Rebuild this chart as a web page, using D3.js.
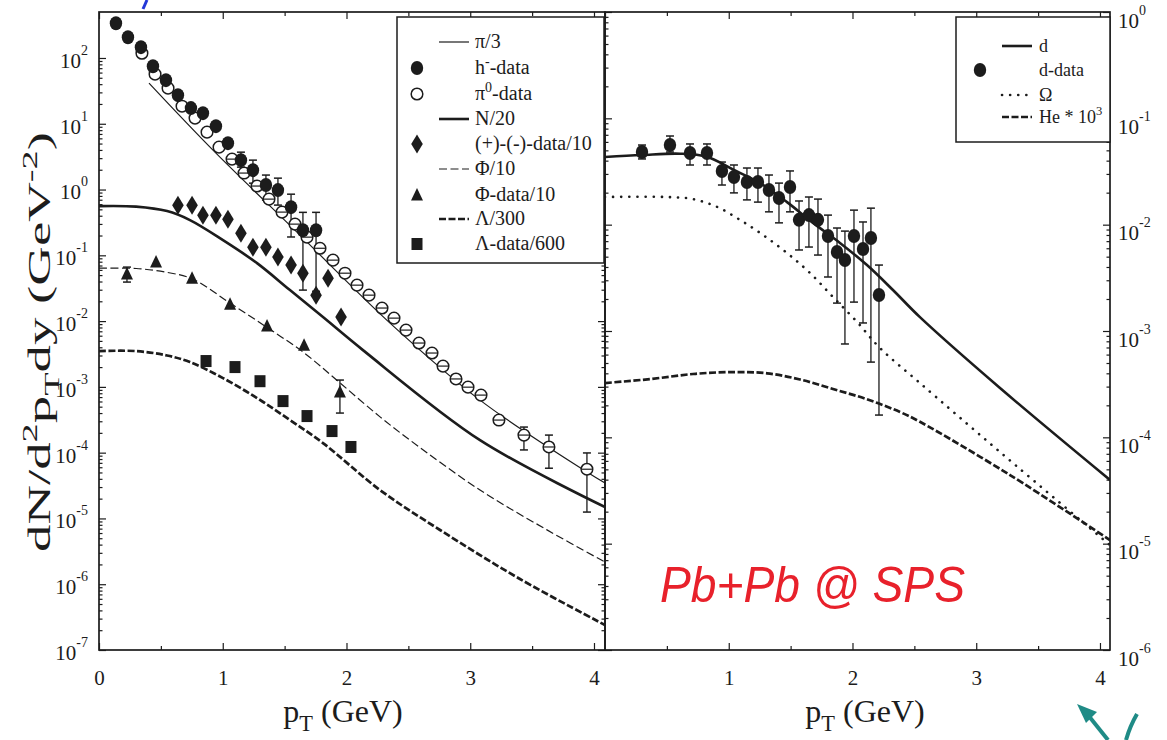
<!DOCTYPE html>
<html><head><meta charset="utf-8">
<script src="https://cdn.jsdelivr.net/npm/d3@7"></script>
<style>
body{margin:0;background:#fff;}
svg{display:block;font-family:"Liberation Serif","DejaVu Serif",serif;}
</style></head><body>
<svg id="chart" width="1167" height="740"></svg>
<script>
// ---------------- data ----------------
const xTickValues=[0,1,2,3,4];
const xMinorValues=[0.5,1.5,2.5,3.5];
const leftDecades=[-7,-6,-5,-4,-3,-2,-1,0,1,2];
const rightDecades=[-6,-5,-4,-3,-2,-1,0];

// left panel: h- data (filled circles)
const hmP=[0.137,0.234,0.339,0.436,0.541,0.638,0.743,0.840,0.945,1.042,1.147,1.244,1.349,1.446,1.552,1.648,1.754];
const hmV=[338,207,146,75,46,27.2,17.3,14.5,9.2,5.07,2.80,1.97,1.17,0.98,0.54,0.24,0.24];
const hmLo=[null,null,null,null,null,null,null,null,null,null,2.19,1.25,0.69,0.58,0.19,0.0296,0.0284];
const hmHi=[null,null,null,null,null,null,null,null,null,null,3.7,2.8,1.66,1.49,0.85,0.45,0.45];
// pi0 data (open circles)
const pi0P=[0.347,0.453,0.558,0.671,0.776,0.873,0.970,1.075,1.172,1.277,1.374,1.479,1.584,1.681,1.786,1.891,1.988,2.085,2.182,2.287,2.384,2.481,2.586,2.691,2.780,2.885,2.982,3.087,3.232,3.434,3.636,3.943];
const pi0V=[118,56.7,34.8,18.5,12.2,7.45,4.41,2.90,1.78,1.13,0.715,0.454,0.298,0.189,0.128,0.0845,0.0535,0.0352,0.0248,0.0158,0.0111,0.0073,0.00464,0.00327,0.00207,0.00132,0.00099,0.00075,0.000313,0.000185,0.000122,0.000056];
const pi0Lo=[null,null,null,null,null,null,null,null,null,null,null,null,null,null,null,null,null,null,null,null,null,null,null,null,null,null,null,null,null,0.00011,0.000058,0.0000125];
const pi0Hi=[null,null,null,null,null,null,null,null,null,null,null,null,null,null,null,null,null,null,null,null,null,null,null,null,null,null,null,null,null,0.000245,0.000185,0.000099];
// (+)-(-) data /10 (diamonds)
const pmP=[0.638,0.752,0.840,0.945,1.042,1.147,1.244,1.349,1.446,1.552,1.648,1.754,1.851,1.956];
const pmV=[0.579,0.579,0.408,0.408,0.355,0.217,0.133,0.133,0.094,0.071,0.0536,0.0248,0.045,0.0115];
// Phi data /10 (triangles)
const phiP=[0.226,0.461,0.752,1.059,1.358,1.657,1.947];
const phiV=[0.0518,0.0789,0.045,0.0181,0.0084,0.00431,0.000834];
const phiLo=[0.0392,null,null,null,null,null,0.0004];
const phiHi=[0.0662,null,null,null,null,null,0.00127];
// Lambda data /600 (squares)
const lamP=[0.865,1.099,1.301,1.487,1.681,1.883,2.036];
const lamV=[0.00247,0.0020,0.00122,0.000608,0.00036,0.000213,0.000122];

// left panel curves
const piLineP=[0.404,0.921,1.624,2.352,3.079,3.943,4.089];
const piLineV=[41.4,3.97,0.203,0.00933,6.29e-4,5.07e-5,3.45e-5];
const nLineP=[0,0.30,0.55,0.735,1.002,1.277,1.543,1.810,2.133,3.079,4.089];
const nLineV=[0.56,0.55,0.47,0.343,0.170,0.076,0.0296,0.0115,0.00362,1.55e-4,1.49e-5];
const phiLineP=[0,0.30,0.55,0.752,1.059,1.358,1.648,1.947,2.271,2.513,3.079,3.620,4.089];
const phiLineV=[0.0638,0.063,0.055,0.044,0.0188,0.0080,0.0034,0.00115,3.5e-4,1.55e-4,2.7e-5,6.7e-6,2.17e-6];
const lamLineP=[0,0.30,0.55,0.735,1.002,1.277,1.543,1.810,2.271,2.756,3.402,4.089];
const lamLineV=[0.0035,0.0035,0.0030,0.00238,0.00136,6.76e-4,3.13e-4,1.40e-4,2.7e-5,6.67e-6,1.2e-6,2.4e-7];

// right panel: d data
const dP=[0.299,0.525,0.687,0.824,0.945,1.042,1.147,1.236,1.325,1.406,1.495,1.568,1.648,1.721,1.802,1.875,1.939,2.012,2.085,2.149,2.214];
const dV=[0.0482,0.0561,0.0472,0.0472,0.032,0.0281,0.0252,0.0252,0.0212,0.0178,0.0226,0.0111,0.0123,0.0111,0.00782,0.00553,0.00465,0.00782,0.0059,0.0075,0.00218];
const dLo=[0.0415,0.0482,0.0364,0.0364,0.0236,0.0199,0.0171,0.0163,0.0132,0.0104,0.0132,0.00578,0.00616,0.00518,0.00322,0.00183,0.000755,0.00187,0.00119,0.00051,0.000162];
const dHi=[0.0561,0.0682,0.0574,0.0574,0.0388,0.0364,0.0341,0.0341,0.0293,0.0246,0.032,0.0167,0.0182,0.0174,0.0123,0.0093,0.0087,0.0137,0.0106,0.0143,0.00417];
// right panel curves
const dLineP=[0,0.299,0.606,0.824,1.034,1.253,1.471,1.681,1.899,2.117,2.327,2.545,3.192,4.081];
const dLineV=[0.0433,0.0452,0.0465,0.0435,0.0330,0.0246,0.0163,0.0104,0.00673,0.00417,0.00243,0.00135,2.91e-4,3.97e-5];
const omLineP=[0,0.501,0.711,0.905,1.091,1.277,1.471,1.657,1.842,2.036,2.222,2.545,3.192,4.081];
const omLineV=[0.0182,0.0182,0.0174,0.0147,0.0111,0.0080,0.00541,0.00351,0.00209,0.00122,6.92e-4,3.24e-4,7.28e-5,9.7e-6];
const heLineP=[0,0.364,0.711,1.034,1.309,1.576,1.842,2.117,2.384,2.545,3.273,4.081];
const heLineV=[3.24e-4,3.53e-4,3.94e-4,4.11e-4,4.00e-4,3.50e-4,2.85e-4,2.28e-4,1.73e-4,1.40e-4,4.42e-5,1.08e-5];

// legends
const legendLeftLabels=["π/3","h^{-}-data","π^{0}-data","N/20","(+)-(-)-data/10","Φ/10","Φ-data/10","Λ/300","Λ-data/600"];
const legendLeftKinds=["thin","fcircle","ocircle","thick","diamond","thindash","triangle","thickdash","square"];
const legendRightLabels=["d","d-data","Ω","He * 10^{3}"];
const legendRightKinds=["thick","fcircle","dotted","thickdash"];

const xTitleParts=[["p",""],["T","sub"],[" (GeV)",""]];
const yTitleParts=[["dN/d",""],["2","sup"],["p",""],["T","sub"],["dy (GeV",""],["-2","sup"],[")",""]];
const annotation="Pb+Pb @ SPS";

// ---------------- layout ----------------
const svg=d3.select("#chart");
const INK="#1c1c1c";
const L={x0:99,x1:605,y0:12,y1:650};
const R={x0:605,x1:1110,y0:12,y1:650};
const xL=d3.scaleLinear([0,4.089],[L.x0,L.x1]);
const yL=d3.scaleLog([1e-7,Math.pow(10,2.699)],[L.y1,L.y0]);
const xR=d3.scaleLinear([0,4.081],[R.x0,R.x1]);
const yR=d3.scaleLog([1e-6,1],[R.y1,R.y0]);

const defs=svg.append("defs");
defs.append("clipPath").attr("id","clipL").append("rect").attr("x",L.x0).attr("y",L.y0).attr("width",L.x1-L.x0).attr("height",L.y1-L.y0);
defs.append("clipPath").attr("id","clipR").append("rect").attr("x",R.x0).attr("y",R.y0).attr("width",R.x1-R.x0).attr("height",R.y1-R.y0);

function minorLogs(decs){const out=[];decs.forEach(k=>{if(k===decs[decs.length-1])return;for(let m=2;m<=9;m++)out.push(m*Math.pow(10,k));});return out;}
function majors(decs){return decs.map(k=>Math.pow(10,k));}

function styleAxis(g){g.select(".domain").remove();g.selectAll(".tick line").attr("stroke",INK).attr("stroke-width",1.2);g.attr("font-family","Liberation Serif").attr("font-size",21);g.selectAll("text").attr("fill",INK);}
function decadeText(g,anchor,dy){
  g.selectAll(".tick text").each(function(d){
    const t=d3.select(this);t.text(null).attr("dy",dy).attr("text-anchor",anchor);
    t.append("tspan").text("10");
    t.append("tspan").attr("dy",-13).attr("font-size",14).text(String(Math.round(Math.log10(d))));
  });
}

function drawAxes(xs,ys,P,decs,side,xlabels){
  const b=svg.append("g").attr("transform",`translate(0,${P.y1})`).call(d3.axisBottom(xs).tickValues(xlabels).tickSizeInner(-7).tickSizeOuter(0).tickPadding(22).tickFormat(d3.format("d")));
  styleAxis(b);
  b.selectAll(".tick text").attr("dy","0.71em").attr("y",20);
  const bm=svg.append("g").attr("transform",`translate(0,${P.y1})`).call(d3.axisBottom(xs).tickValues(xMinorValues).tickSizeInner(-4).tickSizeOuter(0).tickFormat(""));
  styleAxis(bm);
  const t=svg.append("g").attr("transform",`translate(0,${P.y0})`).call(d3.axisTop(xs).tickValues(xTickValues).tickSizeInner(-7).tickSizeOuter(0).tickFormat(""));
  styleAxis(t);
  const tm=svg.append("g").attr("transform",`translate(0,${P.y0})`).call(d3.axisTop(xs).tickValues(xMinorValues).tickSizeInner(-4).tickSizeOuter(0).tickFormat(""));
  styleAxis(tm);
  const l=svg.append("g").attr("transform",`translate(${P.x0},0)`).call(d3.axisLeft(ys).tickValues(majors(decs)).tickSizeInner(-7).tickSizeOuter(0).tickPadding(11).tickFormat(()=>""));
  styleAxis(l);
  if(side==="left")decadeText(l,"end","0.45em");else l.selectAll(".tick text").remove();
  const lm=svg.append("g").attr("transform",`translate(${P.x0},0)`).call(d3.axisLeft(ys).tickValues(minorLogs(decs)).tickSizeInner(-3.5).tickSizeOuter(0).tickFormat(""));
  styleAxis(lm);
  const r=svg.append("g").attr("transform",`translate(${P.x1},0)`).call(d3.axisRight(ys).tickValues(majors(decs)).tickSizeInner(-7).tickSizeOuter(0).tickPadding(8).tickFormat(()=>""));
  styleAxis(r);
  if(side==="right")decadeText(r,"start","0.72em");else r.selectAll(".tick text").remove();
  const rm=svg.append("g").attr("transform",`translate(${P.x1},0)`).call(d3.axisRight(ys).tickValues(minorLogs(decs)).tickSizeInner(-3.5).tickSizeOuter(0).tickFormat(""));
  styleAxis(rm);
}
drawAxes(xL,yL,L,leftDecades,"left",xTickValues);
drawAxes(xR,yR,R,rightDecades,"right",[1,2,3,4]);

[L,R].forEach(P=>svg.append("rect").attr("x",P.x0).attr("y",P.y0).attr("width",P.x1-P.x0).attr("height",P.y1-P.y0).attr("fill","none").attr("stroke",INK).attr("stroke-width",1.7));

// ---------------- curves ----------------
const lineStyles={
  thin:{w:1.2,dash:null},
  thick:{w:2.6,dash:null},
  thindash:{w:1.2,dash:"8,3.5"},
  thickdash:{w:2.7,dash:"7,2.5"},
  dotted:{w:2.6,dash:"0.1,8",cap:"round"}
};
function drawCurve(g,xs,ys,P,V,kind){
  const st=lineStyles[kind];
  const pts=P.map((p,i)=>[xs(p),ys(V[i])]);
  g.append("path").attr("d",d3.line().curve(d3.curveCatmullRom.alpha(0.5))(pts)).attr("fill","none").attr("stroke",INK)
   .attr("stroke-width",st.w).attr("stroke-dasharray",st.dash).attr("stroke-linecap",st.cap||"butt");
}
const gL=svg.append("g").attr("clip-path","url(#clipL)");
const gR=svg.append("g").attr("clip-path","url(#clipR)");
drawCurve(gL,xL,yL,piLineP,piLineV,"thin");
drawCurve(gL,xL,yL,nLineP,nLineV,"thick");
drawCurve(gL,xL,yL,phiLineP,phiLineV,"thindash");
drawCurve(gL,xL,yL,lamLineP,lamLineV,"thickdash");
drawCurve(gR,xR,yR,dLineP,dLineV,"thick");
drawCurve(gR,xR,yR,omLineP,omLineV,"dotted");
drawCurve(gR,xR,yR,heLineP,heLineV,"thickdash");

// ---------------- markers ----------------
function marker(g,kind,x,y,bar){
  if(kind==="fcircle")g.append("ellipse").attr("cx",x).attr("cy",y).attr("rx",6.2).attr("ry",7).attr("fill",INK);
  else if(kind==="ocircle"){
    g.append("circle").attr("cx",x).attr("cy",y).attr("r",5.8).attr("fill","#fff").attr("stroke",INK).attr("stroke-width",1.5);
    if(bar)g.append("line").attr("x1",x-5).attr("x2",x+5).attr("y1",y).attr("y2",y).attr("stroke",INK).attr("stroke-width",1.2);
  }
  else if(kind==="diamond")g.append("path").attr("d",`M${x},${y-9.5}L${x+5.8},${y}L${x},${y+9.5}L${x-5.8},${y}Z`).attr("fill",INK);
  else if(kind==="triangle")g.append("path").attr("d",`M${x},${y-7}L${x+6},${y+5.5}L${x-6},${y+5.5}Z`).attr("fill",INK);
  else if(kind==="square")g.append("rect").attr("x",x-5.5).attr("y",y-6).attr("width",11).attr("height",12).attr("fill",INK);
}
function errBars(g,xs,ys,P,lo,hi){
  P.forEach((p,i)=>{
    if(lo[i]==null)return;
    const x=xs(p),a=ys(lo[i]),b=ys(hi[i]);
    g.append("line").attr("x1",x).attr("x2",x).attr("y1",a).attr("y2",b).attr("stroke",INK).attr("stroke-width",1.3);
    [a,b].forEach(yy=>g.append("line").attr("x1",x-4).attr("x2",x+4).attr("y1",yy).attr("y2",yy).attr("stroke",INK).attr("stroke-width",1.5));
  });
}
function points(g,xs,ys,P,V,kind){P.forEach((p,i)=>marker(g,kind,xs(p),ys(V[i]),p>1.0));}

errBars(gL,xL,yL,hmP,hmLo,hmHi);
errBars(gL,xL,yL,pi0P,pi0Lo,pi0Hi);
errBars(gL,xL,yL,phiP,phiLo,phiHi);
points(gL,xL,yL,pi0P,pi0V,"ocircle");
points(gL,xL,yL,hmP,hmV,"fcircle");
points(gL,xL,yL,pmP,pmV,"diamond");
points(gL,xL,yL,phiP,phiV,"triangle");
points(gL,xL,yL,lamP,lamV,"square");
errBars(gR,xR,yR,dP,dLo,dHi);
points(gR,xR,yR,dP,dV,"fcircle");

// ---------------- rich text helper ----------------
function parseRich(s){
  const parts=[];const re=/\^\{([^}]*)\}|_\{([^}]*)\}|([^\^_]+)/g;let m;
  while((m=re.exec(s))){if(m[1]!=null)parts.push([m[1],"sup"]);else if(m[2]!=null)parts.push([m[2],"sub"]);else parts.push([m[3],""]);}
  return parts;
}
function rich(textSel,parts,fs){
  let cur=0;
  parts.forEach(([t,k])=>{
    const target=k==="sup"?-0.42*fs:(k==="sub"?0.28*fs:0);
    textSel.append("tspan").attr("dy",target-cur).attr("font-size",k?fs*0.7:fs).text(t);
    cur=target;
  });
}

// ---------------- legends ----------------
function legendSample(g,kind,x,y){
  if(lineStyles[kind]){
    const st=lineStyles[kind];
    g.append("line").attr("x1",x-14).attr("x2",x+16).attr("y1",y).attr("y2",y).attr("stroke",INK).attr("stroke-width",st.w).attr("stroke-dasharray",st.dash).attr("stroke-linecap",st.cap||"butt");
  } else marker(g,kind,x-36,y,false);
}
function legend(box,labels,kinds,rows,sampleX,textX,fs){
  svg.append("rect").attr("x",box[0]).attr("y",box[1]).attr("width",box[2]).attr("height",box[3]).attr("fill","#fff").attr("stroke",INK).attr("stroke-width",1.5);
  const g=svg.append("g");
  labels.forEach((lab,i)=>{
    legendSample(g,kinds[i],sampleX,rows[i]);
    const t=g.append("text").attr("x",textX).attr("y",rows[i]+6).attr("font-size",fs).attr("fill",INK);
    rich(t,parseRich(lab),fs);
  });
}
legend([397,17,207,246],legendLeftLabels,legendLeftKinds,[42,68,94,119,144,169,195,219,244],453,475,20);
legend([956,17,154,125],legendRightLabels,legendRightKinds,[46,70,95,117],1016,1039,18);

// ---------------- titles ----------------
const xt1=svg.append("text").attr("x",343).attr("y",722).attr("text-anchor","middle").attr("font-size",32).attr("fill",INK);
rich(xt1,xTitleParts,32);
const xt2=svg.append("text").attr("x",865).attr("y",722).attr("text-anchor","middle").attr("font-size",32).attr("fill",INK);
rich(xt2,xTitleParts,32);
const ytG=svg.append("g").attr("transform","translate(50,342) rotate(-90)");
const yt=ytG.append("text").attr("text-anchor","middle").attr("font-size",31).attr("fill",INK);
rich(yt,yTitleParts,31);
const ylen=yt.node().getComputedTextLength();
if(ylen>0)yt.attr("transform",`scale(${420/ylen},1)`);

// ---------------- handwritten annotations ----------------
svg.append("text").attr("x",660).attr("y",602).attr("font-family","Liberation Sans").attr("font-style","italic").attr("font-size",50).attr("fill","#e8212b").attr("textLength",305).attr("lengthAdjust","spacingAndGlyphs").text(annotation);
svg.append("path").attr("d","M147,0 L143,9").attr("stroke","#2438d8").attr("stroke-width",3).attr("fill","none");
svg.append("path").attr("d","M1077,704 L1097,712 L1086,723 Z").attr("fill","#1f8b86");
svg.append("path").attr("d","M1088,715 L1108,740").attr("stroke","#1f8b86").attr("stroke-width",4).attr("fill","none");
svg.append("path").attr("d","M1137,714 Q1130,726 1126,740").attr("stroke","#1f8b86").attr("stroke-width",4).attr("fill","none");
</script>
</body></html>
